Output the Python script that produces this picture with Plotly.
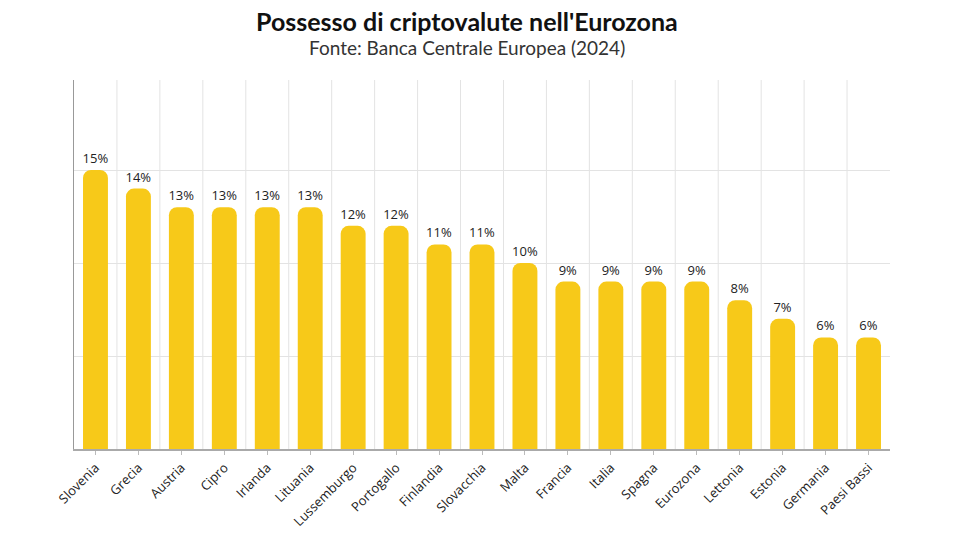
import plotly.graph_objects as go

countries = ["Slovenia", "Grecia", "Austria", "Cipro", "Irlanda", "Lituania",
             "Lussemburgo", "Portogallo", "Finlandia", "Slovacchia", "Malta",
             "Francia", "Italia", "Spagna", "Eurozona", "Lettonia", "Estonia",
             "Germania", "Paesi Bassi"]
values = [15, 14, 13, 13, 13, 13, 12, 12, 11, 11, 10, 9, 9, 9, 9, 8, 7, 6, 6]
y_grid = [5, 10, 15]

TFONT = "Lato"
LFONT = "Open Sans"
BAR = "#F7C919"

fig = go.Figure()
fig.add_trace(go.Bar(
    x=countries, y=values,
    marker=dict(color=BAR, cornerradius=8, line=dict(width=0)),
    text=[f"{v}%" for v in values], textposition="outside", constraintext="none",
    textfont=dict(family=LFONT, size=13, color="#222222"),
    cliponaxis=False, hoverinfo="skip",
))

shapes = []
for i in range(len(countries) - 1):
    shapes.append(dict(type="line", xref="x", yref="paper", x0=i + 0.5, x1=i + 0.5,
                       y0=0, y1=1, line=dict(color="#e3e3e3", width=1), layer="below"))

L, R, T, B = 74, 86, 80, 84
pw, ph = 976 - L - R, 533 - T - B

fig.update_layout(
    width=976, height=533,
    margin=dict(l=L, r=R, t=T, b=B, autoexpand=False),
    paper_bgcolor="white", plot_bgcolor="white",
    bargap=0.42,
    showlegend=False,
    shapes=shapes,
    annotations=[
        dict(text="<b>Possesso di criptovalute nell'Eurozona</b>",
             x=(467 - L) / pw, y=(533 - B - 21) / ph,
             xref="paper", yref="paper", xanchor="center", yanchor="middle", showarrow=False,
             font=dict(family=TFONT, size=25, color="#111111")),
        dict(text="Fonte: Banca Centrale Europea (2024)",
             x=(467 - L) / pw, y=(533 - B - 48) / ph,
             xref="paper", yref="paper", xanchor="center", yanchor="middle", showarrow=False,
             font=dict(family=TFONT, size=19, color="#333333")),
    ],
    xaxis=dict(
        type="category", tickangle=-45, showgrid=False, automargin=False,
        tickfont=dict(family=LFONT, size=13, color="#222222"),
        ticks="outside", ticklen=4, tickcolor="#bbbbbb", tickwidth=1,
        showline=True, linecolor="#aaaaaa", linewidth=2,
    ),
    yaxis=dict(
        range=[0, 19.84], tickvals=y_grid, showticklabels=False, automargin=False,
        showgrid=True, gridcolor="#e3e3e3", gridwidth=1,
        showline=True, linecolor="#999999", linewidth=1,
        zeroline=False, ticks="",
    ),
)

fig.write_html("out.html")
